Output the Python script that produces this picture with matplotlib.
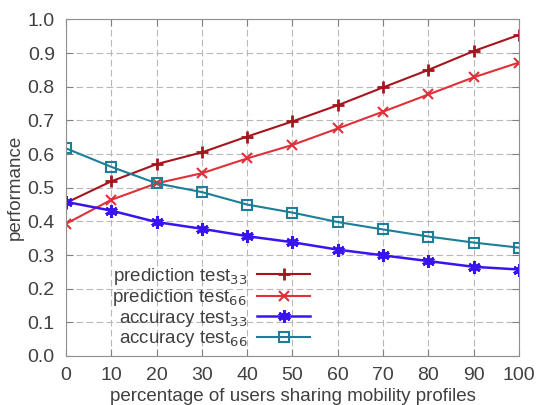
import numpy as np
import matplotlib.pyplot as plt

plt.rcParams['font.family'] = ['Liberation Sans', 'DejaVu Sans']

x = np.array([0, 10, 20, 30, 40, 50, 60, 70, 80, 90, 100])

pred33 = np.array([0.455, 0.519, 0.570, 0.605, 0.652, 0.697, 0.745, 0.798, 0.850, 0.906, 0.954])
pred66 = np.array([0.393, 0.464, 0.513, 0.543, 0.587, 0.627, 0.676, 0.726, 0.777, 0.828, 0.872])
acc33 = np.array([0.458, 0.432, 0.398, 0.378, 0.356, 0.338, 0.316, 0.299, 0.282, 0.265, 0.257])
acc66 = np.array([0.617, 0.562, 0.513, 0.487, 0.450, 0.426, 0.398, 0.376, 0.355, 0.337, 0.322])

labels = ['prediction test$_{33}$', 'prediction test$_{66}$',
          'accuracy test$_{33}$', 'accuracy test$_{66}$']

txt = '#404040'
fig = plt.figure(figsize=(5.39, 4.05), dpi=100)
ax = fig.add_axes([0.1224, 0.121, 0.8404, 0.831])

ax.plot(x, pred33, color='#a8141e', marker='+', ms=9, mew=2, lw=1.5, label=labels[0])
ax.plot(x, pred66, color='#e0303a', marker='x', ms=7.5, mew=1.5, lw=1.5, label=labels[1])
ax.plot(x, acc33, color='#3a14f0', marker=(6, 2, 0), ms=9, mew=2.2, lw=1.8, label=labels[2])
ax.plot(x, acc66, color='#1b7f97', marker='s', ms=7, mew=1.5, mfc='none', lw=1.5, label=labels[3])

ax.set_xlim(0, 100)
ax.set_ylim(0, 1.0)
ax.set_xticks(x)
ax.set_yticks(np.arange(0, 1.01, 0.1))
ax.set_yticklabels(['%.1f' % v for v in np.arange(0, 1.01, 0.1)])
ax.tick_params(direction='in', top=True, right=True, length=5, color='#808080',
               labelsize=14, labelcolor=txt)
ax.tick_params(axis='y', pad=8)
ax.tick_params(axis='x', pad=8)
ax.grid(True, color='#b8b8b8', linestyle=(0, (6, 3)), linewidth=0.8)
for s in ax.spines.values():
    s.set_color('#909090')

ax.set_xlabel('percentage of users sharing mobility profiles', fontsize=13.5, color=txt, labelpad=3)
ax.set_ylabel('performance', fontsize=13.5, color=txt, labelpad=3)

leg = ax.legend(loc='center right', bbox_to_anchor=(0.539, 0.144), frameon=False, fontsize=13.5,
                markerfirst=False, handlelength=2.83, labelspacing=0.02, borderaxespad=0,
                borderpad=0, handletextpad=0.53)
for t in leg.get_texts():
    t.set_color(txt)
    t.set_ha('right')
leg._legend_box.align = 'right'

fig.savefig('out.png', dpi=100)
